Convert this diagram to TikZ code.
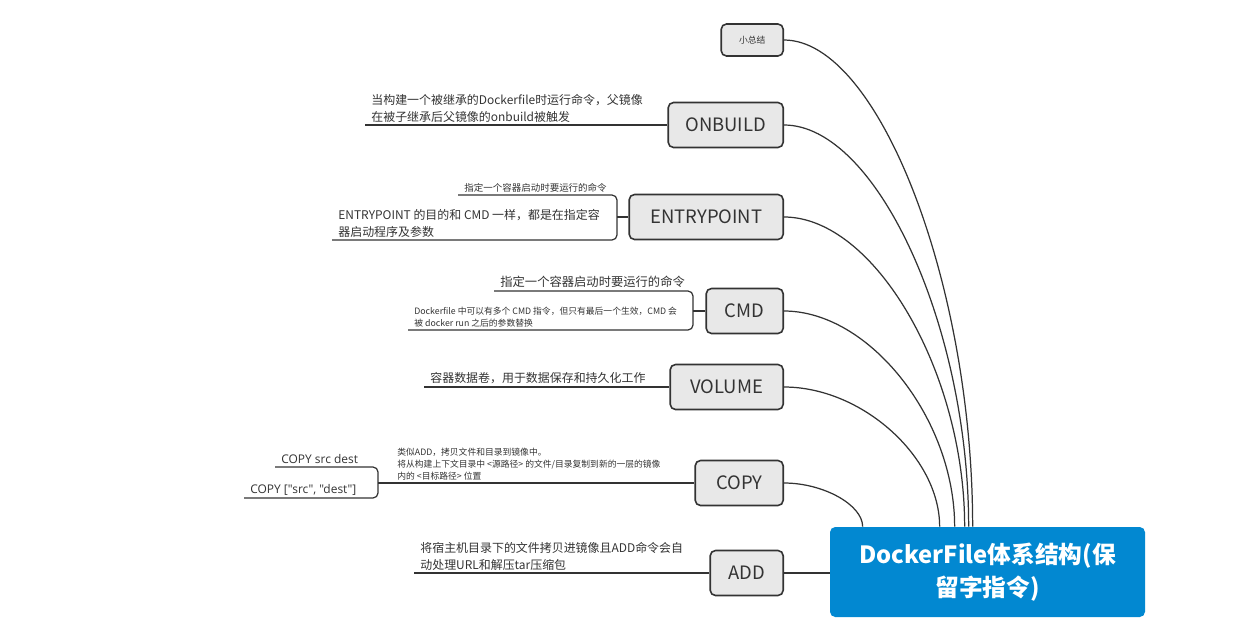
\documentclass[tikz,border=0pt]{standalone}
\usepackage{fontspec}
\setmainfont{Noto Sans CJK SC}
\newfontfamily\latinfont{Open Sans}
\usetikzlibrary{calc,positioning}

\definecolor{inkgray}{HTML}{333333}
\definecolor{boxgray}{HTML}{E8E8E8}
\definecolor{rootblue}{HTML}{0288D1}

\begin{document}
\begin{tikzpicture}[
        x=0.2mm, y=-0.2mm,
        link/.style={draw=inkgray, line width=0.7pt},
        cmdbox/.style={draw=inkgray, fill=boxgray, line width=0.9pt, rounded corners=3pt,
            minimum height=9mm, inner sep=0pt, anchor=east, text=inkgray,
            font=\fontsize{10.5pt}{12pt}\selectfont},
        rootbox/.style={fill=rootblue, rounded corners=3pt, minimum width=63mm, minimum height=18mm,
            inner sep=0pt, align=center, text=white, font=\fontsize{13.5pt}{19pt}\selectfont\bfseries},
        leaf/.style={anchor=south west, align=left, inner xsep=1.2mm, inner ysep=1.5pt, text=inkgray,
            font=\fontsize{6.8pt}{9.2pt}\selectfont},
        smallleaf/.style={leaf, font=\fontsize{5pt}{6.8pt}\selectfont}
    ]
    \useasboundingbox (0,0) rectangle (1253,618);

    % root
    \node[rootbox] (root) at (987.5,572) {DockerFile体系结构(保\\留字指令)};

    % reserved words
    \node[cmdbox, minimum width=12.4mm, minimum height=6.4mm, font=\fontsize{5pt}{6pt}\selectfont] (sum) at (784,40) {小总结};
    \node[cmdbox, minimum width=23mm]   (onb) at (784,125) {ONBUILD};
    \node[cmdbox, minimum width=30.8mm] (ent) at (784,217) {ENTRYPOINT};
    \node[cmdbox, minimum width=15.4mm] (cmd) at (784,311) {CMD};
    \node[cmdbox, minimum width=22.6mm] (vol) at (784,387) {VOLUME};
    \node[cmdbox, minimum width=17.6mm] (cpy) at (784,483) {COPY};
    \node[cmdbox, minimum width=14.6mm] (add) at (784,573) {ADD};

    % branches to the root
    \foreach \nm/\d in {sum/143, onb/139, ent/135, cmd/125, vol/110, cpy/33}{
        \coordinate (rt) at ($(root.north west)+(\d,0)$);
        \draw[link] (\nm.east) .. controls ($(\nm.east)!0.5!(\nm.east -| rt)$) and ($(rt)!0.5!(rt |- \nm.east)$) .. (rt);
    }
    \draw[link] (add.east) -- (root.west |- add.east);

    % ONBUILD
    \node[leaf] (onbT) at (365,125) {当构建一个被继承的Dockerfile时运行命令，父镜像\\在被子继承后父镜像的onbuild被触发};
    \draw[link] (onbT.south west) -- (onb.west);

    % ENTRYPOINT
    \node[leaf, font=\fontsize{5.4pt}{6.5pt}\selectfont] (entA) at (458,195) {指定一个容器启动时要运行的命令};
    \node[leaf] (entB) at (332,240) {ENTRYPOINT 的目的和 CMD 一样，都是在指定容\\器启动程序及参数};
    \coordinate (entJ) at (617,217);
    \draw[link, rounded corners=1mm] (entA.south west) -| (entJ) |- (entB.south west);
    \draw[link] (entJ) -- (ent.west);

    % CMD
    \node[leaf, font=\fontsize{7pt}{8.5pt}\selectfont] (cmdA) at (494,291) {指定一个容器启动时要运行的命令};
    \node[smallleaf] (cmdB) at (408,330) {Dockerfile 中可以有多个 CMD 指令，但只有最后一个生效，CMD 会\\被 docker run 之后的参数替换};
    \coordinate (cmdJ) at (693,311);
    \draw[link, rounded corners=1mm] (cmdA.south west) -| (cmdJ) |- (cmdB.south west);
    \draw[link] (cmdJ) -- (cmd.west);

    % VOLUME
    \node[leaf] (volT) at (424,387) {容器数据卷，用于数据保存和持久化工作};
    \draw[link] (volT.south west) -- (vol.west);

    % COPY
    \node[smallleaf] (cpyT) at (391,483) {类似ADD，拷贝文件和目录到镜像中。\\将从构建上下文目录中 <源路径> 的文件/目录复制到新的一层的镜像\\内的 <目标路径> 位置};
    \node[leaf, font=\latinfont\fontsize{6.8pt}{9.2pt}\selectfont] (cpyA) at (275,467) {COPY src dest};
    \node[leaf, font=\latinfont\fontsize{6.8pt}{9.2pt}\selectfont] (cpyB) at (244,498) {COPY ["src", "dest"]};
    \coordinate (cpyJ) at (378,483);
    \draw[link, rounded corners=1mm] (cpyA.south west) -| (cpyJ) |- (cpyB.south west);
    \draw[link] (cpyJ) -- (cpy.west);

    % ADD
    \node[leaf] (addT) at (414,573) {将宿主机目录下的文件拷贝进镜像且ADD命令会自\\动处理URL和解压tar压缩包};
    \draw[link] (addT.south west) -- (add.west);
\end{tikzpicture}
\end{document}
